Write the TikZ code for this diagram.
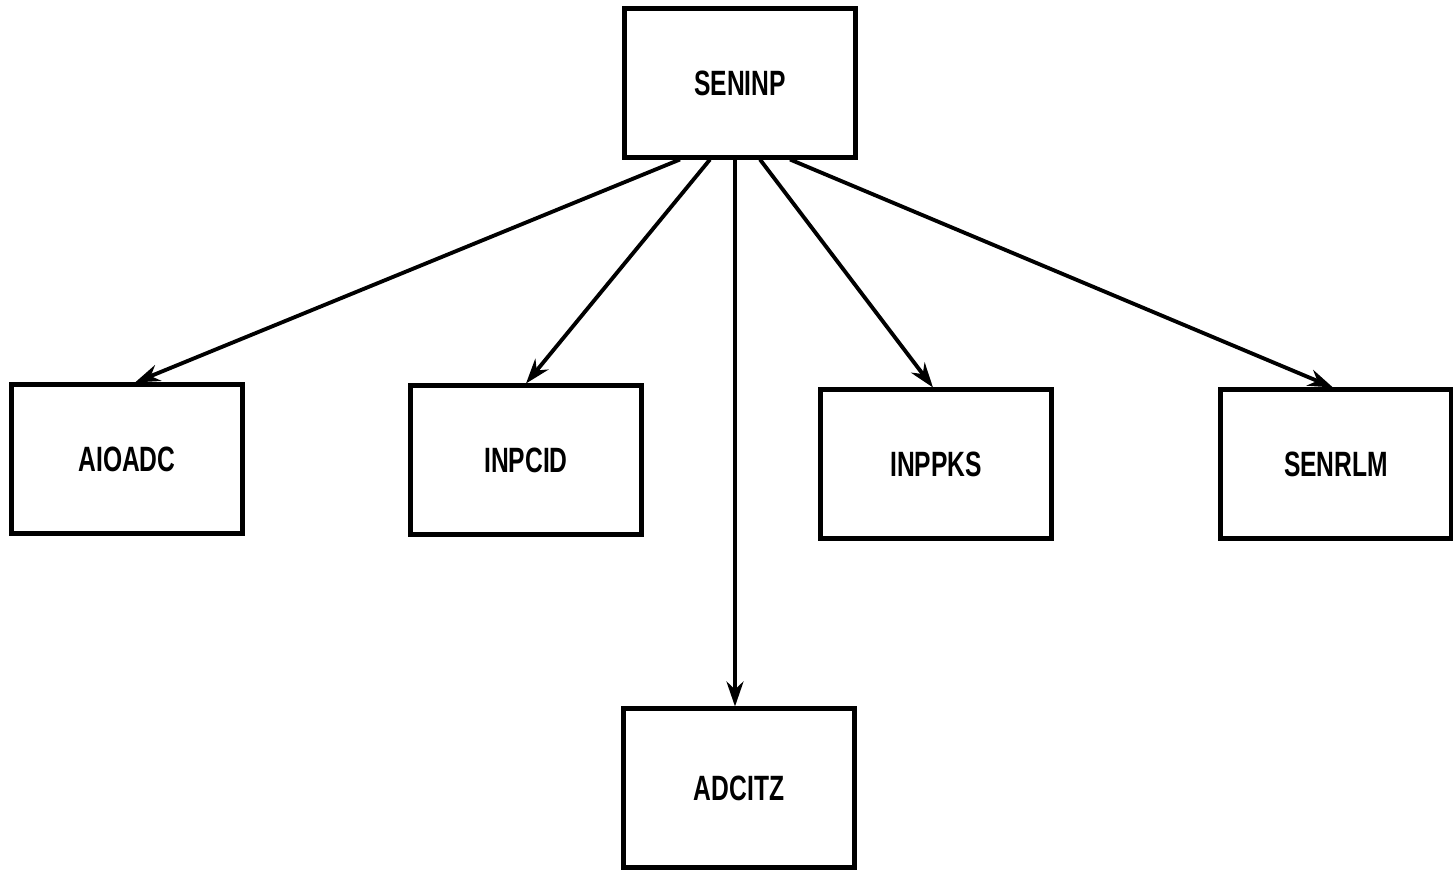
\documentclass[tikz,border=0pt]{standalone}
\usepackage{fontspec}
\usepackage{tikz}
\usetikzlibrary{
    arrows.meta,
    shapes
}
\setmainfont{Liberation Sans}[FakeStretch=0.7]

\begin{document}
\begin{tikzpicture}[x=0.01cm, y=-0.01cm]
            \useasboundingbox (0,0) rectangle (1453,873);
            \tikzset{module/.style={draw, rectangle, line width=1.4pt, minimum width=2.3cm, minimum height=1.48cm, font=\normalsize\bfseries},
                     call/.style={-{Stealth[length=0.25cm, width=0.17cm]}, line width=1.1pt}}

            \node[module] (seninp) at (740, 83) {SENINP};

            \node[module] (aioadc) at (127, 459) {AIOADC};
            \node[module] (inpcid) at (526, 460) {INPCID};
            \node[module] (inppks) at (936, 464) {INPPKS};
            \node[module] (senrlm) at (1336, 464) {SENRLM};

            \node[module, minimum height=1.58cm] (adcitz) at (739, 788) {ADCITZ};

            \draw[call] ([xshift=-0.6cm]seninp.south) -- ([xshift=0.08cm]aioadc.north);
            \draw[call] ([xshift=-0.3cm]seninp.south) -- (inpcid.north);
            \draw[call] ([xshift=-0.05cm]seninp.south) -- ([xshift=-0.04cm]adcitz.north);
            \draw[call] ([xshift=0.2cm]seninp.south) -- ([xshift=-0.03cm]inppks.north);
            \draw[call] ([xshift=0.5cm]seninp.south) -- ([xshift=-0.03cm]senrlm.north);
\end{tikzpicture}
\end{document}
